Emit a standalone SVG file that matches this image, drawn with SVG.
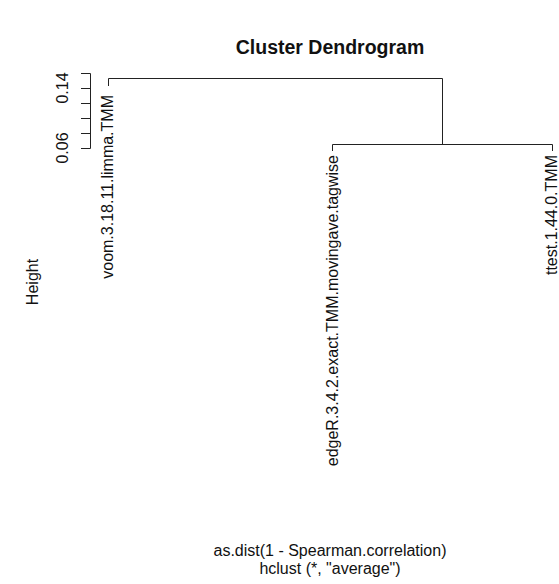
<svg xmlns="http://www.w3.org/2000/svg" width="559" height="584" viewBox="0 0 559 584">
<style>
text{font-family:"Liberation Sans",Arial,sans-serif;fill:#111}
.lab{font-size:16px}
.ax{font-size:16px}
.title{font-size:19.5px;font-weight:bold}
.ln{stroke:#222;stroke-width:1;fill:none}
</style>
<rect width="559" height="584" fill="#fff"/>
<text class="title" x="330" y="54" text-anchor="middle">Cluster Dendrogram</text>
<g id="axis">
<path class="ln" d="M90.5,73.5V148.5M90.5,73.5H81M90.5,88.5H81M90.5,103.5H81M90.5,118.5H81M90.5,133.5H81M90.5,148.5H81"/>
<text class="ax" transform="translate(68,88) rotate(-90)" text-anchor="middle">0.14</text>
<text class="ax" transform="translate(68,148) rotate(-90)" text-anchor="middle">0.06</text>
<text class="ax" transform="translate(38,282) rotate(-90)" text-anchor="middle">Height</text>
</g>
<g id="connectors">
<path class="ln" d="M108.5,86V78.5H442.5V144.5"/>
<path class="ln" d="M332.5,151V144.5H552.5V151"/>
</g>
<g id="voom"><text class="lab" transform="translate(113,95) rotate(-90)" text-anchor="end">voom.3.18.11.limma.TMM</text></g>
<g id="edgeR"><text class="lab" transform="translate(338,155) rotate(-90)" text-anchor="end">edgeR.3.4.2.exact.TMM.movingave.tagwise</text></g>
<g id="ttest"><text class="lab" transform="translate(557,155) rotate(-90)" text-anchor="end">ttest.1.44.0.TMM</text></g>
<text class="ax" x="330" y="556" text-anchor="middle">as.dist(1 - Spearman.correlation)</text>
<text class="ax" x="330" y="574" text-anchor="middle">hclust (*, "average")</text>
</svg>
